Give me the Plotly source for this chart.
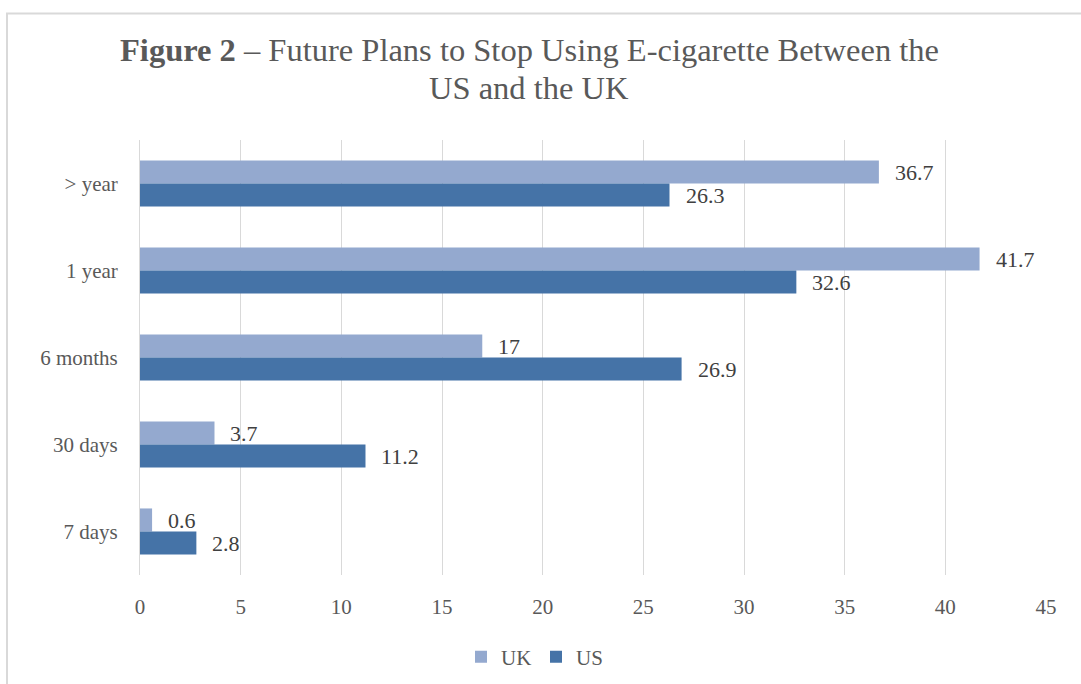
import plotly.graph_objects as go

# Survey responses (%), listed top to bottom as displayed
categories = ["> year", "1 year", "6 months", "30 days", "7 days"]
uk_values = [36.7, 41.7, 17, 3.7, 0.6]
us_values = [26.3, 32.6, 26.9, 11.2, 2.8]
x_ticks = [0, 5, 10, 15, 20, 25, 30, 35, 40, 45]
title_lines = ["<b>Figure 2</b> – Future Plans to Stop Using E-cigarette Between the",
               "US and the UK"]

UK_COLOR = "#94A9CF"
US_COLOR = "#4573A7"
GRID = "#D9D9D9"
SERIF = "Liberation Serif"

W, H = 1081, 684
L, R, T, B = 140, 35, 140, 109
PW, PH = W - L - R, H - T - B

fig = go.Figure()
fig.add_trace(go.Bar(y=categories, x=uk_values, name="UK", orientation="h",
                     marker=dict(color=UK_COLOR, line=dict(width=0))))
fig.add_trace(go.Bar(y=categories, x=us_values, name="US", orientation="h",
                     marker=dict(color=US_COLOR, line=dict(width=0))))

# value labels placed just past the end of each bar
annotations = []
for vals, shift in ((uk_values, 11.5), (us_values, -11.5)):
    for cat, v in zip(categories, vals):
        annotations.append(dict(x=v, y=cat, xref="x", yref="y", text=f"{v:g}",
                                showarrow=False, xanchor="left", yanchor="middle",
                                xshift=14, yshift=shift,
                                font=dict(family=SERIF, size=22, color="#404040")))

px2x = lambda p: (p - L) / PW
px2y = lambda p: (H - B - p) / PH

# two-line title
for line, ypx in zip(title_lines, (50, 88)):
    annotations.append(dict(x=px2x(529), y=px2y(ypx), xref="paper", yref="paper",
                            text=line, showarrow=False, xanchor="center",
                            yanchor="middle",
                            font=dict(family=SERIF, size=32.5, color="#595959")))

# chart frame
shapes = [dict(type="rect", xref="paper", yref="paper",
               x0=px2x(7), x1=px2x(1095), y0=px2y(700), y1=px2y(13.5),
               line=dict(color=GRID, width=2), fillcolor="rgba(0,0,0,0)",
               layer="below")]

fig.update_layout(
    width=W, height=H,
    margin=dict(l=L, r=R, t=T, b=B, autoexpand=False),
    paper_bgcolor="white", plot_bgcolor="white",
    barmode="group", bargap=0.47, bargroupgap=0,
    xaxis=dict(range=[0, 45], tickvals=x_ticks, showgrid=True, gridcolor=GRID,
               gridwidth=1, zeroline=False, showline=False,
               ticklabelstandoff=17,
               tickfont=dict(family=SERIF, size=21, color="#595959")),
    yaxis=dict(autorange="reversed", showgrid=False, zeroline=False,
               showline=True, linecolor=GRID, linewidth=1,
               ticklabelstandoff=17,
               tickfont=dict(family=SERIF, size=21, color="#595959")),
    legend=dict(orientation="h", x=px2x(536), xanchor="center",
                y=px2y(657), yanchor="middle",
                font=dict(family=SERIF, size=21, color="#595959"),
                itemwidth=30, entrywidth=30, entrywidthmode="pixels"),
    annotations=annotations,
    shapes=shapes,
    showlegend=True,
)

fig.write_html("out.html")
